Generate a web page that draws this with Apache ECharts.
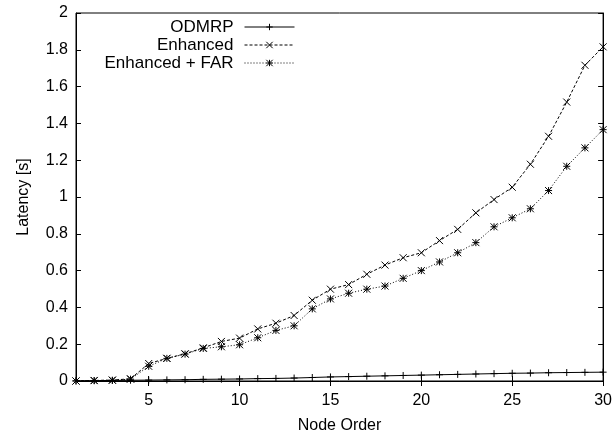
<!DOCTYPE html>
<html>
<head>
<meta charset="utf-8">
<script src="https://cdn.jsdelivr.net/npm/echarts@6/dist/echarts.min.js"></script>
<style>
html,body{margin:0;padding:0;background:#fff;}
#chart{width:615px;height:439px;}
</style>
</head>
<body>
<div id="chart"></div>
<script>
var nodeOrder = [1,2,3,4,5,6,7,8,9,10,11,12,13,14,15,16,17,18,19,20,21,22,23,24,25,26,27,28,29,30];
var odmrp = [0.001,0.002,0.003,0.004,0.005,0.006,0.007,0.009,0.010,0.011,0.013,0.014,0.016,0.019,0.022,0.024,0.026,0.028,0.030,0.032,0.034,0.036,0.038,0.040,0.042,0.043,0.045,0.046,0.047,0.048];
var enhanced = [0,0.003,0.005,0.012,0.095,0.123,0.148,0.18,0.215,0.233,0.283,0.314,0.356,0.439,0.499,0.524,0.58,0.63,0.67,0.697,0.763,0.824,0.914,0.986,1.053,1.178,1.33,1.516,1.716,1.816];
var enhancedFar = [0,0.002,0.004,0.01,0.08,0.123,0.146,0.177,0.186,0.197,0.235,0.275,0.3,0.392,0.446,0.477,0.499,0.516,0.558,0.6,0.647,0.697,0.752,0.838,0.887,0.936,1.035,1.167,1.267,1.366];
var xTicks = [5,10,15,20,25,30];
var seriesNames = ['ODMRP','Enhanced','Enhanced + FAR'];

function pairs(ys){ return nodeOrder.map(function(x,i){ return [x, ys[i]]; }); }

var FONT = 'Liberation Sans';
var FS = 16;
var plusPath = 'path://M0,5L10,5M5,0L5,10';
var xPath = 'path://M0,0L10,10M10,0L0,10';
var starPath = 'path://M0,0L10,10M10,0L0,10M0,5L10,5M5,0L5,10';

function mkSeries(name, ys, sym, type){
  return {
    name: name, type: 'line', data: pairs(ys),
    symbol: sym, symbolSize: 7, showSymbol: true,
    lineStyle: {color:'#000', width:1, type:type},
    itemStyle: {color:'rgba(0,0,0,0)', borderColor:'#000', borderWidth:1},
    emphasis: {disabled:true}, animation:false
  };
}

var chart = echarts.init(document.getElementById('chart'), null, {renderer:'canvas'});
chart.setOption({
  backgroundColor:'#fff',
  animation:false,
  grid:{left:76, right:8, top:13, bottom:57, show:true, borderColor:'#000', borderWidth:1, backgroundColor:'transparent'},
  legend:{
    orient:'vertical', align:'right', right:320, top:18, padding:0,
    itemWidth:50, itemHeight:8, itemGap:0,
    lineStyle:{width:1},
    itemStyle:{borderWidth:1, borderColor:'#000', color:'rgba(0,0,0,0)'},
    textStyle:{fontFamily:FONT, fontSize:17, color:'#000', lineHeight:18, padding:[0,6,0,0]},
    data: seriesNames
  },
  xAxis:[{
    type:'value', min:1, max:30,
    name:'Node Order', nameLocation:'middle', nameGap:37,
    nameTextStyle:{fontFamily:FONT, fontSize:FS, color:'#000'},
    axisLine:{show:true, lineStyle:{color:'#000', width:1}},
    axisTick:{show:true, inside:true, length:5, customValues:xTicks, lineStyle:{color:'#000'}},
    axisLabel:{customValues:xTicks, fontFamily:FONT, fontSize:FS, color:'#000', margin:12},
    splitLine:{show:false}
  },{
    type:'value', min:1, max:30, position:'top',
    axisLine:{show:true, lineStyle:{color:'#000'}},
    axisTick:{show:true, inside:true, length:5, customValues:xTicks, lineStyle:{color:'#000'}},
    axisLabel:{show:false}, splitLine:{show:false}
  }],
  yAxis:[{
    type:'value', min:0, max:2, interval:0.2,
    name:'Latency [s]', nameLocation:'middle', nameGap:44,
    nameTextStyle:{fontFamily:FONT, fontSize:FS, color:'#000'},
    axisLine:{show:true, lineStyle:{color:'#000'}},
    axisTick:{show:true, inside:true, length:5, lineStyle:{color:'#000'}},
    axisLabel:{fontFamily:FONT, fontSize:FS, color:'#000', margin:8},
    splitLine:{show:false}
  },{
    type:'value', min:0, max:2, interval:0.2, position:'right',
    axisLine:{show:true, lineStyle:{color:'#000'}},
    axisTick:{show:true, inside:true, length:5, lineStyle:{color:'#000'}},
    axisLabel:{show:false}, splitLine:{show:false}
  }],
  series:[
    mkSeries(seriesNames[0], odmrp, plusPath, 'solid'),
    mkSeries(seriesNames[1], enhanced, xPath, [3,2]),
    mkSeries(seriesNames[2], enhancedFar, starPath, [1,2])
  ]
});
</script>
</body>
</html>
